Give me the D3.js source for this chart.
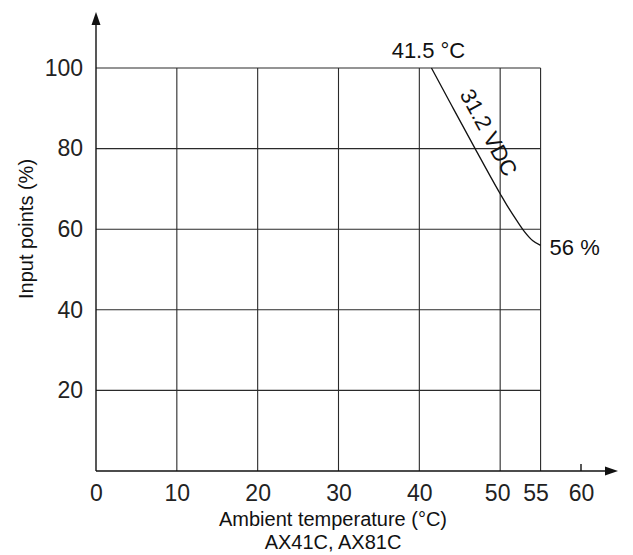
<!DOCTYPE html>
<html>
<head>
<meta charset="utf-8">
<script src="https://cdn.jsdelivr.net/npm/d3@7"></script>
<style>
  html, body { margin: 0; padding: 0; background: #fff; }
  svg { display: block; font-family: "Liberation Sans", Arial, Helvetica, sans-serif; }
</style>
</head>
<body>
<svg id="chart" width="633" height="555"></svg>
<script>
// Derating curve: input points (%) vs ambient temperature (°C) at 31.2 VDC
const xTicks = [0, 10, 20, 30, 40, 50, 55, 60];
const yTicks = [20, 40, 60, 80, 100];
const gridX = [10, 20, 30, 40, 50, 55];
const gridY = [20, 40, 60, 80, 100];
const curveTemp = [41.5, 44, 46.9, 50, 51, 52, 53, 54, 55];
const curvePoints = [100, 90.7, 80, 68.8, 65.4, 62.3, 59.4, 57.2, 56];
const startLabel = "41.5 °C";
const endLabel = "56 %";
const voltageLabel = "31.2 VDC";
const xTitle = ["Ambient temperature (°C)", "AX41C, AX81C"];
const yTitle = "Input points (%)";

const svg = d3.select("#chart");
const x = d3.scaleLinear().domain([0, 60]).range([96, 581]);
const y = d3.scaleLinear().domain([0, 100]).range([471, 68]);
const ink = "#111";

// grid
const grid = svg.append("g").attr("stroke", "#2a2a2a").attr("stroke-width", 1.1);
grid.selectAll("line.v").data(gridX).join("line")
  .attr("x1", d => x(d)).attr("x2", d => x(d))
  .attr("y1", y(0)).attr("y2", y(100));
grid.selectAll("line.h").data(gridY).join("line")
  .attr("x1", x(0)).attr("x2", x(55))
  .attr("y1", d => y(d)).attr("y2", d => y(d));

// axis lines with arrowheads
const axes = svg.append("g").attr("stroke", ink).attr("stroke-width", 1.4);
axes.append("line").attr("x1", x(0)).attr("x2", 610).attr("y1", y(0)).attr("y2", y(0));
axes.append("line").attr("x1", x(0)).attr("x2", x(0)).attr("y1", y(0)).attr("y2", 20);
svg.append("path").attr("fill", ink)
  .attr("d", `M${x(0)},12 L${x(0) - 4.5},25 L${x(0) + 4.5},25 Z`);
svg.append("path").attr("fill", ink)
  .attr("d", `M618,${y(0)} L605,${y(0) - 4.5} L605,${y(0) + 4.5} Z`);
// small tick at 60
axes.append("line").attr("x1", x(60)).attr("x2", x(60)).attr("y1", y(0)).attr("y2", y(0) - 7);

// tick labels
const xAxis = svg.append("g").attr("transform", `translate(0,${y(0)})`)
  .call(d3.axisBottom(x).tickValues(xTicks).tickSize(0).tickPadding(14).tickFormat(d3.format("d")));
xAxis.select(".domain").remove();
xAxis.selectAll("text").attr("font-size", 23).attr("fill", "#222")
  .attr("font-family", "Liberation Sans, Arial, sans-serif")
  .attr("dx", d => d === 55 ? -5 : d === 50 ? -3 : 0);

const yAxis = svg.append("g").attr("transform", `translate(${x(0)},0)`)
  .call(d3.axisLeft(y).tickValues(yTicks).tickSize(0).tickPadding(13).tickFormat(d3.format("d")));
yAxis.select(".domain").remove();
yAxis.selectAll("text").attr("font-size", 23).attr("fill", "#222")
  .attr("font-family", "Liberation Sans, Arial, sans-serif");

// derating curve
const line = d3.line().x(d => x(d[0])).y(d => y(d[1])).curve(d3.curveMonotoneX);
svg.append("path").datum(d3.zip(curveTemp, curvePoints))
  .attr("fill", "none").attr("stroke", ink).attr("stroke-width", 1.3)
  .attr("d", line);

// curve annotations
svg.append("text").attr("x", x(curveTemp[0]) - 3).attr("y", 58)
  .attr("text-anchor", "middle").attr("font-size", 22).attr("fill", ink).text(startLabel);
svg.append("text").attr("x", x(55) + 9).attr("y", y(56) + 10)
  .attr("text-anchor", "start").attr("font-size", 22).attr("fill", ink).text(endLabel);

// rotated voltage label running parallel to the straight part of the curve
const x0 = x(curveTemp[0]), y0 = y(curvePoints[0]);
const x1 = x(curveTemp[2]), y1 = y(curvePoints[2]);
const len = Math.hypot(x1 - x0, y1 - y0);
const ux = (x1 - x0) / len, uy = (y1 - y0) / len;
const angle = Math.atan2(uy, ux) * 180 / Math.PI;
const along = 84, offset = 12;
const lx = x0 + ux * along + uy * offset;
const ly = y0 + uy * along - ux * offset;
svg.append("text")
  .attr("transform", `translate(${lx},${ly}) rotate(${angle})`)
  .attr("text-anchor", "middle").attr("font-size", 22).attr("fill", ink).text(voltageLabel);

// axis titles
svg.append("text").attr("x", 333).attr("y", 526).attr("text-anchor", "middle")
  .attr("font-size", 20).attr("fill", ink).text(xTitle[0]);
svg.append("text").attr("x", 333).attr("y", 549).attr("text-anchor", "middle")
  .attr("font-size", 20).attr("fill", ink).text(xTitle[1]);
svg.append("text").attr("transform", `translate(33,229) rotate(-90)`)
  .attr("text-anchor", "middle").attr("font-size", 20).attr("fill", ink).text(yTitle);
</script>
</body>
</html>
